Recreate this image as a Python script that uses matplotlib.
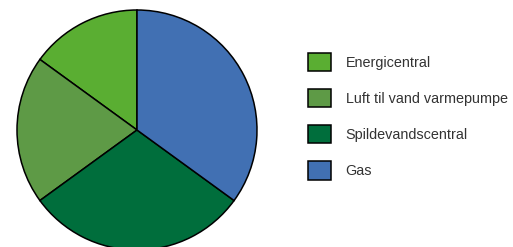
import matplotlib.pyplot as plt

plt.rcParams['font.family'] = ['Liberation Sans', 'DejaVu Sans']

labels = ['Energicentral', 'Luft til vand varmepumpe', 'Spildevandscentral', 'Gas']
shares = [15, 20, 30, 35]
colors = ['#5aae32', '#5e9a46', '#006e3c', '#4170b3']

W, H = 513, 247
fig = plt.figure(figsize=(W / 100, H / 100), dpi=100)

# pie sits at centre (137, 130) px from top-left, radius ~120 px
r = 120
cx, cy = 137, H - 130
ax = fig.add_axes([(cx - r) / W, (cy - r) / H, 2 * r / W, 2 * r / H])
wedges, _ = ax.pie(shares, colors=colors, startangle=90, counterclock=True,
                   radius=1, wedgeprops=dict(edgecolor='black', linewidth=1.1))
for w in wedges:
    w.set_clip_on(False)
ax.set_xlim(-1, 1)
ax.set_ylim(-1, 1)
ax.set_aspect('equal')
ax.axis('off')

leg = fig.legend(wedges, labels, loc='upper left',
                 bbox_to_anchor=(308 / W, (H - 53) / H),
                 frameon=False, fontsize=10.4, borderpad=0, borderaxespad=0,
                 handlelength=1.6, handleheight=1.55, handletextpad=1.0,
                 labelspacing=1.25)
for t in leg.get_texts():
    t.set_color('#333333')

fig.savefig('out.png', dpi=100)
